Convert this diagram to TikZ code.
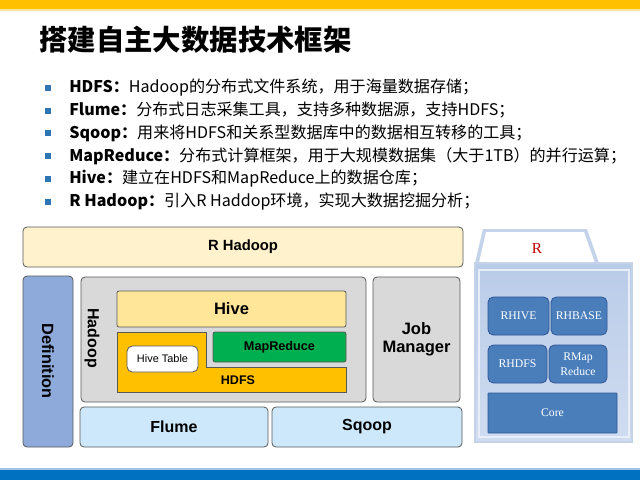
\documentclass[tikz,border=0pt]{standalone}
\usepackage{fontspec}
\setmainfont{Liberation Sans}
\newfontfamily\cjk{Noto Sans CJK SC}
\newfontfamily\rserif{Liberation Serif}
\definecolor{topbar}{HTML}{FFC000}
\definecolor{topline}{HTML}{FFE699}
\definecolor{botbar}{HTML}{0070C0}
\definecolor{botline}{HTML}{9DC3E6}
\definecolor{bulletc}{HTML}{2E75B6}
\definecolor{rhad}{HTML}{FFF2CC}
\definecolor{defblue}{HTML}{8EAADB}
\definecolor{hgray}{HTML}{D9D9D9}
\definecolor{hivec}{HTML}{FFE699}
\definecolor{hdfsc}{HTML}{FFC000}
\definecolor{mrc}{HTML}{00B050}
\definecolor{flumec}{HTML}{CCE8FA}
\definecolor{edgec}{HTML}{595959}
\definecolor{rboxc}{HTML}{4A7EBB}
\definecolor{rbord}{HTML}{2F5597}
\definecolor{rtab}{HTML}{C5D3EA}
\definecolor{rtop}{HTML}{B9CCE8}
\definecolor{rmid}{HTML}{EEF3FA}
\definecolor{rbot}{HTML}{D0DCF0}
\definecolor{rred}{HTML}{C00000}
\begin{document}
\begin{tikzpicture}[x=0.75pt,y=-0.75pt,
  blk/.style={draw=edgec, line width=0.6pt, rounded corners=3pt, inner sep=0pt, align=center},
  bf/.style={font=\bfseries\fontsize{#1}{#1}\selectfont},
  rb/.style={draw=rbord, line width=0.6pt, fill=rboxc, rounded corners=4pt, inner sep=0pt, text=white, align=center, font=\rserif\fontsize{8.8}{11}\selectfont},
  bsq/.style={fill=bulletc, minimum size=4.5pt, inner sep=0pt},
  btext/.style={anchor=west, inner sep=0pt, font=\cjk\fontsize{12.05}{14}\selectfont}
]
\useasboundingbox (0,0) rectangle (640,480);
% bars
\fill[topbar] (0,0) rectangle (640,9);
\fill[topline] (0,9) rectangle (640,11);
\fill[botline] (0,468) rectangle (640,470);
\fill[botbar] (0,470) rectangle (640,480);
% title
\node[anchor=west, inner sep=0pt, font=\cjk\bfseries\fontsize{21.3}{24}\selectfont] (title) at (39,40) {搭建自主大数据技术框架};
% bullets
\foreach \i/\b/\t in {0/HDFS：/Hadoop的分布式文件系统，用于海量数据存储；,
                      1/Flume：/分布式日志采集工具，支持多种数据源，支持HDFS；,
                      2/Sqoop：/用来将HDFS和关系型数据库中的数据相互转移的工具；,
                      3/MapReduce：/分布式计算框架，用于大规模数据集（大于1TB）的并行运算；,
                      4/Hive：/建立在HDFS和MapReduce上的数据仓库；,
                      5/R Hadoop：/引入R Haddop环境，实现大数据挖掘分析；}{
  \node[bsq] (sq\i) at (48,{87.7+22.8*\i}) {};
  \node[btext] (bt\i) at (69,{87.7+22.8*\i}) {{\bfseries \b}\t};
}
% left diagram
\node[blk, fill=rhad, bf=11.1, minimum width={440*0.75pt}, minimum height={40*0.75pt}] (rhadoop) at (243,247) {R Hadoop};
\node[blk, fill=defblue, draw=edgec, minimum width={50*0.75pt}, minimum height={171*0.75pt}] (def) at (48,361.5) {};
\node[bf=12.2, rotate=-90, inner sep=0pt] (deft) at (48,361) {Definition};
\node[blk, fill=hgray, minimum width={285*0.75pt}, minimum height={125*0.75pt}] (hadoop) at (223.5,339.5) {};
\node[bf=12, rotate=-90, inner sep=0pt] (hadoopt) at (92,338) {Hadoop};
\node[blk, fill=hivec, rounded corners=1.5pt, bf=12.4, minimum width={229*0.75pt}, minimum height={36*0.75pt}] (hive) at (231.5,309) {Hive};
\fill[hdfsc, draw=edgec, line width=0.6pt] (117,332) -- (206,332) -- (206,367) -- (346,367) -- (346,392) -- (117,392) -- cycle;
\node[bf=9.4, inner sep=0pt] (hdfs) at (238,380) {HDFS};
\node[blk, fill=mrc, rounded corners=1.5pt, bf=9.5, minimum width={133*0.75pt}, minimum height={30*0.75pt}] (mr) at (279.5,347) {MapReduce};
\node[blk, fill=white, rounded corners=4pt, font=\fontsize{8.2}{9}\selectfont, minimum width={71*0.75pt}, minimum height={26*0.75pt}] (htable) at (162.5,359) {Hive Table};
\node[blk, fill=hgray, bf=12.4, minimum width={87*0.75pt}, minimum height={125*0.75pt}] (job) at (416.5,339.5) {Job\\[1pt]Manager};
\node[blk, fill=flumec, bf=12, minimum width={188*0.75pt}, minimum height={40*0.75pt}] (flume) at (174,427) {Flume};
\node[blk, fill=flumec, bf=12, minimum width={190*0.75pt}, minimum height={40*0.75pt}] (sqoop) at (367,427) {Sqoop};
% R panel
\fill[rtab] (483,229) -- (587,229) -- (599,263) -- (475,263) -- cycle;
\fill[white] (486,232) -- (584,232) -- (595,263) -- (479,263) -- cycle;
\shade[top color=rtop, middle color=rmid, bottom color=rbot] (475,263) rectangle (632,442);
\draw[rtab, line width=0.8pt] (475,263) rectangle (632,442);
\draw[white!60!rtab, line width=0.8pt] (479,270) rectangle (629,437);
\node[text=rred, font=\rserif\fontsize{11.5}{13}\selectfont, inner sep=0pt] (rlab) at (537,248) {R};
\node[rb, minimum width={61*0.75pt}, minimum height={38*0.75pt}] (rhive) at (518.5,316) {RHIVE};
\node[rb, minimum width={56*0.75pt}, minimum height={38*0.75pt}] (rhbase) at (579,316) {RHBASE};
\node[rb, minimum width={59*0.75pt}, minimum height={38*0.75pt}] (rhdfs) at (517.5,364) {RHDFS};
\node[rb, minimum width={58*0.75pt}, minimum height={38*0.75pt}] (rmap) at (578,364) {RMap\\Reduce};
\node[rb, rounded corners=0.5pt, minimum width={129*0.75pt}, minimum height={40*0.75pt}] (core) at (552.5,413) {Core};
\end{tikzpicture}
\end{document}
